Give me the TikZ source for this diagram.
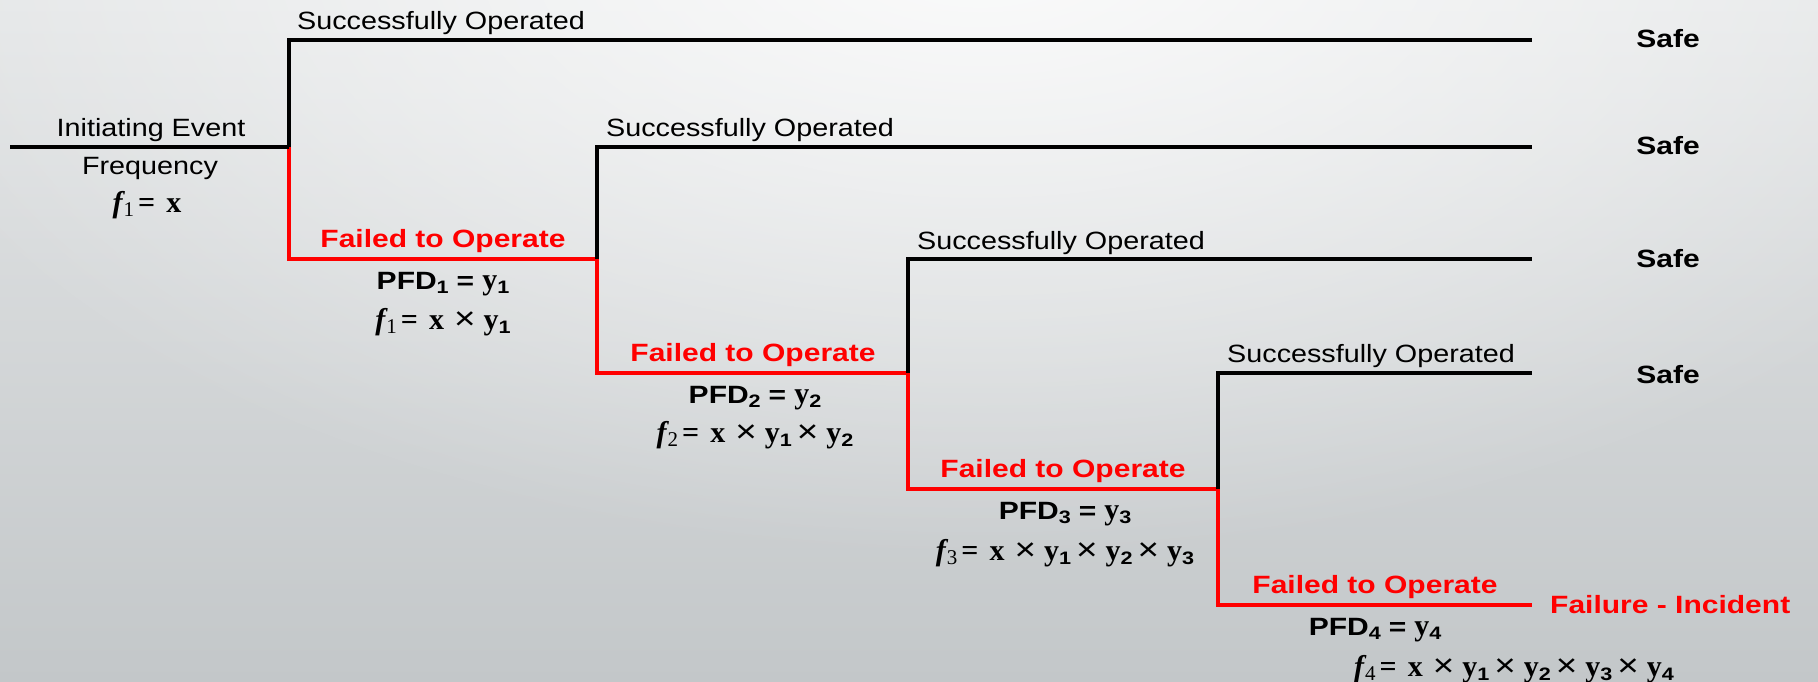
\documentclass[tikz,border=0pt]{standalone}
\usepackage{fontspec}
\setmainfont{Liberation Sans}[FakeStretch=1.15,BoldFeatures={FakeStretch=1.2}]
\newfontfamily\tms{Liberation Serif}
\usetikzlibrary{fadings}

\definecolor{bgtop}{HTML}{E4E6E7}
\definecolor{bgbot}{HTML}{C3C7C9}
\definecolor{failred}{HTML}{FF0000}

\tikzfading[name=softglow, inner color=transparent!0, outer color=transparent!100]

% pieces of the frequency formulas
\newcommand\FF[1]{{\tms\bfseries\itshape f}\kern1pt\raisebox{-4pt}{\fontsize{21}{21}\selectfont\tms #1}\kern4pt{\tms\bfseries =}\kern11pt}
\newcommand\FX{{\tms\bfseries x}}
\newcommand\FY[1]{{\tms\bfseries y}\raisebox{-4pt}{\fontsize{18}{18}\selectfont\bfseries #1}}
\newcommand\FMul{\kern5pt{\fontsize{32}{32}\selectfont ×}\kern8pt}
\newcommand\PFD[1]{\textbf{PFD}\raisebox{-4pt}{\fontsize{18}{18}\selectfont\bfseries #1}\ \textbf{=}\ {\fontsize{30}{30}\selectfont\FY{#1}}}

\tikzset{
  okline/.style={draw=black, line width=4.5pt},
  failline/.style={draw=failred, line width=4.5pt},
  txt/.style={inner sep=0pt, font=\fontsize{25}{30}\selectfont},
  oklabel/.style={txt, anchor=base west},
  faillabel/.style={txt, anchor=base, text=failred, font=\fontsize{25}{30}\selectfont\bfseries},
  pfdlabel/.style={txt, anchor=base},
  freqlabel/.style={inner sep=0pt, anchor=base, font=\fontsize{30}{34}\selectfont},
  endlabel/.style={txt, anchor=base, font=\fontsize{25}{30}\selectfont\bfseries},
}

\begin{document}
\begin{tikzpicture}[x=1pt, y=-1pt]
  % background
  \useasboundingbox (0,0) rectangle (1818,682);
  \begin{scope}
    \clip (0,0) rectangle (1818,682);
    \shade[top color=bgtop, bottom color=bgbot] (0,0) rectangle (1818,682);
    \fill[white, path fading=softglow, fill opacity=0.85] (980,-60) ellipse (1150 and 620);
  \end{scope}

  % branch points and end points
  \coordinate (ie) at (10,147);
  \coordinate (n1) at (289,147);
  \coordinate (n2) at (597,259);
  \coordinate (n3) at (908,373);
  \coordinate (n4) at (1218,489);
  \coordinate (s1) at (1532,40);
  \coordinate (s2) at (1532,147);
  \coordinate (s3) at (1532,259);
  \coordinate (s4) at (1532,373);
  \coordinate (s5) at (1532,605);

  % failure branches
  \draw[failline] (n1) |- (n2);
  \draw[failline] (n2) |- (n3);
  \draw[failline] (n3) |- (n4);
  \draw[failline] (n4) |- (s5);
  % success branches
  \draw[okline] (ie) -- (n1);
  \draw[okline] (n1) |- (s1);
  \draw[okline] (n2) |- (s2);
  \draw[okline] (n3) |- (s3);
  \draw[okline] (n4) |- (s4);

  % initiating event
  \node[pfdlabel] (ie1) at (151,137) {Initiating Event};
  \node[pfdlabel] (ie2) at (150,175) {Frequency};
  \node[freqlabel] (ie3) at (147,212) {\FF{1}\FX};

  % success labels
  \node[oklabel] (op1) at (297,30) {Successfully Operated};
  \node[oklabel] (op2) at (606,137) {Successfully Operated};
  \node[oklabel] (op3) at (917,249) {Successfully Operated};
  \node[oklabel] (op4) at (1227,362) {Successfully Operated};

  % failure labels
  \node[faillabel] (fa1) at (443,247) {Failed to Operate};
  \node[faillabel] (fa2) at (753,361) {Failed to Operate};
  \node[faillabel] (fa3) at (1063,477) {Failed to Operate};
  \node[faillabel] (fa4) at (1375,593) {Failed to Operate};

  % probabilities of failure on demand
  \node[pfdlabel] (pf1) at (443,289) {\PFD{1}};
  \node[pfdlabel] (pf2) at (755,403) {\PFD{2}};
  \node[pfdlabel] (pf3) at (1065,519) {\PFD{3}};
  \node[pfdlabel] (pf4) at (1375,635) {\PFD{4}};

  % frequencies
  \node[freqlabel] (fr1) at (443,329) {\FF{1}\FX\kern5pt\FMul\FY{1}};
  \node[freqlabel] (fr2) at (755,442) {\FF{2}\FX\kern5pt\FMul\FY{1}\FMul\FY{2}};
  \node[freqlabel] (fr3) at (1065,560) {\FF{3}\FX\kern5pt\FMul\FY{1}\FMul\FY{2}\FMul\FY{3}};
  \node[freqlabel] (fr4) at (1514,676) {\FF{4}\FX\kern5pt\FMul\FY{1}\FMul\FY{2}\FMul\FY{3}\FMul\FY{4}};

  % outcomes
  \node[endlabel] (o1) at (1668,48) {Safe};
  \node[endlabel] (o2) at (1668,155) {Safe};
  \node[endlabel] (o3) at (1668,267) {Safe};
  \node[endlabel] (o4) at (1668,383) {Safe};
  \node[endlabel, anchor=base west, text=failred] (o5) at (1550,613) {Failure - Incident};
\end{tikzpicture}
\end{document}
